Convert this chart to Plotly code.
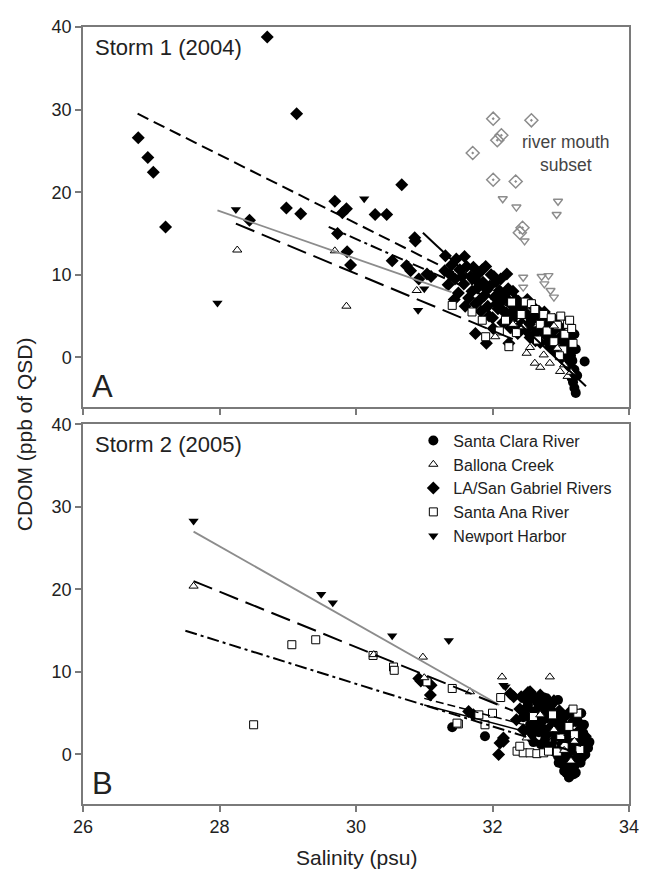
import plotly.graph_objects as go

# ---------------- Storm 1 (2004) data ----------------
s1_clara_x = [33.35, 33.20, 33.18, 33.22, 33.16, 33.20, 33.15, 33.22, 33.12, 33.20, 33.10, 33.24, 33.05, 33.17]
s1_clara_y = [-0.5, -3.7, -3.0, -4.3, -2.5, -1.5, 0.2, 1.0, 2.5, 2.8, -0.8, -2.2, 1.5, -0.4]

s1_ballona_x = [28.26, 29.86, 29.69, 30.89, 32.04, 32.50, 32.62, 32.55, 32.84, 32.99, 32.90, 33.05, 33.10, 32.75, 32.70, 32.45, 32.95, 33.15, 32.30]
s1_ballona_y = [13.0, 6.2, 12.9, 8.1, 2.5, 0.5, -0.7, 1.2, -0.7, -1.7, 3.8, -0.9, -2.3, 0.3, -1.2, 3.7, 1.1, -1.8, 4.0]

s1_la_x = [26.81, 26.95, 27.03, 27.21, 28.70, 29.13, 28.44, 28.98, 29.19, 29.69, 29.73, 29.80, 29.86, 29.87,
           29.92, 30.28, 30.45, 30.67, 30.53, 30.86, 30.87, 30.74, 30.80, 30.92, 31.04, 31.10, 31.31, 31.47,
           31.59, 31.75, 31.91, 32.01, 32.21, 32.24,
           31.30, 31.35, 31.40, 31.45, 31.50, 31.52, 31.58, 31.62, 31.65, 31.68, 31.72, 31.75, 31.78, 31.80,
           31.83, 31.86, 31.88, 31.90, 31.93, 31.96, 31.98, 32.00, 32.03, 32.05, 32.08, 32.10, 32.13, 32.15,
           32.18, 32.20, 32.23, 32.26, 32.28, 32.31, 32.34, 32.37, 32.40, 32.43, 32.46, 32.49, 32.52, 32.55,
           32.58, 32.61, 32.64, 32.67, 32.70, 32.73, 32.76, 32.79, 32.82, 32.85, 32.88, 32.91, 32.94, 32.97,
           33.00, 33.03, 33.06, 33.09, 33.12, 33.15, 33.18,
           31.38, 31.44, 31.55, 31.60, 31.70, 31.74, 31.82, 31.85, 31.92, 31.95, 32.02, 32.06, 32.12, 32.16,
           32.22, 32.25, 32.30, 32.33, 32.38, 32.42, 32.47, 32.51, 32.54, 32.60, 32.63, 32.68, 32.72, 32.78,
           32.81, 32.87, 32.92, 32.96, 33.02, 33.08, 33.13]
s1_la_y = [26.6, 24.2, 22.4, 15.8, 38.8, 29.5, 16.6, 18.1, 17.4, 18.9, 15.0, 17.5, 18.0, 12.8,
           11.2, 17.3, 17.3, 20.9, 11.7, 14.5, 14.1, 11.1, 10.5, 9.5, 10.1, 9.8, 12.3, 11.9,
           12.2, 2.9, 1.7, 3.5, 10.1, 1.7,
           10.5, 8.8, 11.2, 9.5, 7.8, 10.6, 8.9, 11.0, 7.2, 9.8, 10.9, 6.5, 8.4, 10.2,
           5.6, 9.1, 7.5, 11.0, 6.2, 8.6, 10.0, 4.8, 7.3, 9.2, 5.9, 8.1, 6.8, 4.2,
           7.6, 5.4, 8.3, 3.6, 6.3, 4.9, 7.0, 2.9, 5.7, 4.1, 6.2, 3.3, 5.1, 2.4,
           4.5, 6.0, 3.0, 4.9, 1.8, 3.8, 5.5, 2.6, 4.2, 1.2, 3.1, 4.6, 0.6, 2.3,
           3.6, 1.1, -0.5, 2.0, 0.3, -1.3, 1.2,
           10.0, 7.0, 9.8, 6.2, 8.0, 9.5, 7.0, 10.6, 8.2, 5.0, 9.8, 6.5, 9.5, 5.6,
           7.0, 4.5, 8.0, 5.8, 6.8, 3.5, 5.4, 7.0, 4.0, 5.2, 2.0, 5.6, 3.2, 4.8,
           1.8, 4.0, 2.0, 3.8, 2.6, 1.0, 2.4]

s1_ana_x = [31.41, 31.85, 31.90, 32.19, 32.24, 32.28, 32.48, 32.57, 32.35, 32.42, 32.62, 32.66, 32.70, 32.75,
            32.80, 32.86, 32.90, 32.95, 33.00, 33.03, 33.06, 33.10, 33.13, 33.16, 33.18, 32.98, 32.10, 31.70]
s1_ana_y = [6.3, 4.5, 2.5, 4.5, 1.3, 6.7, 6.7, 6.5, 3.0, 5.2, 5.8, 2.1, 4.0, 5.2,
            3.2, 4.8, 1.9, 3.9, 5.0, 0.9, 2.8, 4.0, 4.5, 3.5, 1.7, 0.2, 3.2, 5.5]

s1_newport_x = [28.24, 27.97, 30.12, 30.91, 31.00, 32.30, 32.60, 31.70]
s1_newport_y = [17.9, 6.6, 19.2, 5.7, 8.3, 4.5, 3.5, 9.2]

# river mouth subset (Storm 1)
rm_la_x = [31.71, 32.01, 32.07, 32.13, 32.57, 32.01, 32.34, 32.44, 32.40]
rm_la_y = [24.75, 28.9, 26.3, 26.9, 28.7, 21.5, 21.3, 15.7, 15.1]
rm_newport_x = [32.15, 32.35, 32.96, 32.94, 32.47, 32.45, 32.45, 32.72, 32.82, 32.76, 32.85, 32.90]
rm_newport_y = [19.2, 18.2, 18.9, 17.3, 14.1, 9.7, 8.5, 9.8, 9.9, 8.9, 8.1, 7.3]

# regression lines, Storm 1 (endpoints)
s1_fit_short_x = [26.80, 31.60]
s1_fit_short_y = [29.5, 9.6]
s1_fit_gray_x = [27.97, 31.40]
s1_fit_gray_y = [17.8, 7.9]
s1_fit_long_x = [28.24, 32.30]
s1_fit_long_y = [16.2, 2.2]
s1_fit_dashdot_x = [29.60, 32.20]
s1_fit_dashdot_y = [15.8, 6.3]
s1_fit_solid_x = [30.98, 33.37]
s1_fit_solid_y = [15.1, -3.5]

# ---------------- Storm 2 (2005) data ----------------
s2_clara_x = [31.41, 31.89, 32.96, 32.79,
              32.45, 32.50, 32.52, 32.55, 32.58, 32.60, 32.62, 32.65, 32.68, 32.70, 32.72, 32.75, 32.77, 32.80,
              32.82, 32.85, 32.87, 32.90, 32.92, 32.94, 32.96, 32.98, 33.00, 33.01, 33.03, 33.05, 33.06, 33.08,
              33.09, 33.10, 33.11, 33.12, 33.13, 33.14, 33.15, 33.16, 33.17, 33.18, 33.19, 33.20, 33.21, 33.22,
              33.24, 33.25, 33.27, 33.29, 33.30, 33.32, 33.35, 33.38, 33.42, 33.05, 33.12, 32.97, 33.26, 33.30,
              32.48, 32.53, 32.57, 32.63, 32.67, 32.71, 32.74, 32.78, 32.81, 32.84, 32.86, 32.89, 32.91, 32.93,
              32.95, 32.99, 33.02, 33.04, 33.07, 33.10, 33.13, 33.16, 33.19, 33.23, 33.26, 33.28, 33.31, 33.33,
              33.36, 33.40, 33.08, 33.15, 33.00, 32.70, 32.60, 32.88, 33.20, 33.34]
s2_clara_y = [3.3, 2.2, 6.6, 6.8,
              4.5, 2.8, 6.0, 3.6, 5.2, 1.5, 4.1, 6.4, 2.7, 5.0, 3.3, 6.9, 1.8, 4.4,
              2.6, 5.6, 0.9, 3.7, 1.8, 5.0, -0.2, 2.9, 4.2, 0.8, -1.2, 2.1, 3.5, -2.2,
              0.1, 1.4, -1.5, 2.8, -2.6, -0.6, 0.9, -1.9, 3.9, -0.9, 1.9, -1.4, 0.4, -2.2,
              2.5, -0.3, 1.2, -1.0, 3.0, 0.4, 1.8, 0.9, 1.5, -2.0, -2.8, -1.0, 4.8, 5.0,
              5.5, 4.6, 2.0, 3.0, 5.6, 1.2, 4.2, 3.0, 5.2, 1.0, 3.4, 4.6, 0.3, 2.6,
              4.0, 1.6, 3.0, 0.0, -0.8, 2.2, 0.5, 2.0, -2.4, -1.0, 0.2, 2.0, -0.4, 2.6,
              0.0, 0.8, -1.5, -2.2, -0.6, 6.2, 6.8, 6.2, 4.2, 3.6]

s2_ballona_x = [27.62, 30.98, 30.26, 31.67, 32.14, 32.84, 31.00, 32.70, 32.90, 33.05, 33.15, 33.20, 32.50]
s2_ballona_y = [20.4, 11.8, 12.1, 7.6, 9.4, 9.4, 9.3, 4.8, 3.0, 0.5, -0.8, 1.6, 2.0]

s2_la_x = [30.92, 30.95, 31.10, 31.09, 31.65, 31.72, 32.09, 32.16, 32.11, 32.16, 32.55, 32.26, 32.31, 32.52,
           32.40, 32.45, 32.50, 32.58, 32.62, 32.66, 32.70, 32.74, 32.78, 32.82, 32.86, 32.90, 32.94, 32.98,
           33.02, 33.06, 33.10, 33.14, 33.18, 33.22, 33.26, 33.30, 33.36, 32.42, 32.60, 32.35]
s2_la_y = [9.2, 8.9, 8.4, 7.2, 5.2, 4.8, 0.0, 1.6, 1.4, 2.0, 7.6, 7.4, 7.0, 7.5,
           5.5, 3.0, 6.5, 4.2, 6.9, 3.5, 7.2, 5.6, 2.4, 6.1, 4.5, 6.5, 3.2, 5.3,
           2.6, 4.6, 3.0, 5.2, 2.2, 4.1, 2.8, 3.6, 2.2, 7.0, 2.6, 4.2]

s2_ana_x = [28.50, 29.06, 29.41, 30.55, 30.56, 30.25, 31.04, 31.41, 31.50, 32.12, 31.89, 31.48, 32.36, 32.45,
            32.55, 32.65, 32.75, 32.82, 32.40, 32.95, 33.05, 33.12, 33.20, 33.25, 33.18, 33.28, 32.88, 33.00,
            32.60, 31.80, 32.00]
s2_ana_y = [3.6, 13.3, 13.9, 10.6, 10.2, 12.0, 8.8, 8.0, 3.7, 6.9, 3.6, 3.8, 0.4, 0.2,
            0.2, 0.1, 0.2, 0.4, 1.0, 0.3, 1.0, 3.4, 2.4, 5.0, 5.5, 0.6, 4.8, 2.0,
            4.6, 4.8, 5.0]

s2_newport_x = [27.62, 29.49, 29.66, 30.53, 31.36, 32.19, 32.16, 32.70, 33.00, 33.30]
s2_newport_y = [28.3, 19.4, 18.4, 14.4, 13.8, 8.2, 8.4, 3.9, 1.6, 3.1]

# regression lines, Storm 2 (endpoints)
s2_fit_gray_x = [27.62, 32.10]
s2_fit_gray_y = [27.0, 6.0]
s2_fit_long_x = [27.62, 32.30]
s2_fit_long_y = [21.0, 5.3]
s2_fit_dashdot_x = [27.50, 33.40]
s2_fit_dashdot_y = [15.0, -0.2]
s2_fit_solid_x = [31.00, 33.30]
s2_fit_solid_y = [6.0, 1.0]
s2_fit_short_x = [31.00, 33.20]
s2_fit_short_y = [6.8, 2.0]

series_names = ["Santa Clara River", "Ballona Creek", "LA/San Gabriel Rivers", "Santa Ana River", "Newport Harbor"]
x_ticks = [26, 28, 30, 32, 34]
y_ticks = [0, 10, 20, 30, 40]

# ---------------- styling ----------------
FONT = "Arial, Liberation Sans, sans-serif"
AX = "#7a7a7a"
GRAY = "#8c8c8c"
TXT = "#222"

styles = {
    "Santa Clara River": dict(symbol="circle", size=10, color="black", line=dict(color="black", width=0)),
    "Ballona Creek": dict(symbol="triangle-up", size=8, color="white", line=dict(color="black", width=1)),
    "LA/San Gabriel Rivers": dict(symbol="diamond", size=10, color="black", line=dict(color="black", width=0)),
    "Santa Ana River": dict(symbol="square", size=8, color="white", line=dict(color="black", width=1)),
    "Newport Harbor": dict(symbol="triangle-down", size=9, color="black", line=dict(color="black", width=0)),
}
rank = {n: i for i, n in enumerate(series_names)}

fig = go.Figure()

def add_line(xs, ys, xa, ya, color, width, dash):
    fig.add_trace(go.Scatter(x=xs, y=ys, mode="lines", xaxis=xa, yaxis=ya, showlegend=False,
                             hoverinfo="skip", line=dict(color=color, width=width, dash=dash)))

def add_pts(name, xs, ys, xa, ya, legend):
    fig.add_trace(go.Scatter(x=xs, y=ys, mode="markers", name=name, xaxis=xa, yaxis=ya,
                             showlegend=legend, legendrank=rank[name] + 1, marker=styles[name]))

# Storm 1 (top panel: x2/y2)
add_pts("LA/San Gabriel Rivers", s1_la_x, s1_la_y, "x2", "y2", False)
add_pts("Santa Clara River", s1_clara_x, s1_clara_y, "x2", "y2", False)
add_pts("Newport Harbor", s1_newport_x, s1_newport_y, "x2", "y2", False)
add_pts("Santa Ana River", s1_ana_x, s1_ana_y, "x2", "y2", False)
add_pts("Ballona Creek", s1_ballona_x, s1_ballona_y, "x2", "y2", False)
fig.add_trace(go.Scatter(x=rm_la_x, y=rm_la_y, mode="markers", xaxis="x2", yaxis="y2", showlegend=False,
                         marker=dict(symbol="diamond-open-dot", size=10, color=GRAY, line=dict(width=1.5))))
fig.add_trace(go.Scatter(x=rm_newport_x, y=rm_newport_y, mode="markers", xaxis="x2", yaxis="y2", showlegend=False,
                         marker=dict(symbol="triangle-down-open", size=8, color=GRAY, line=dict(width=1.4))))
add_line(s1_fit_short_x, s1_fit_short_y, "x2", "y2", "black", 2, "12px,6px")
add_line(s1_fit_gray_x, s1_fit_gray_y, "x2", "y2", GRAY, 1.8, "solid")
add_line(s1_fit_long_x, s1_fit_long_y, "x2", "y2", "black", 2, "20px,8px")
add_line(s1_fit_dashdot_x, s1_fit_dashdot_y, "x2", "y2", "black", 2, "12px,4px,3px,4px")
add_line(s1_fit_solid_x, s1_fit_solid_y, "x2", "y2", "black", 2, "solid")

# Storm 2 (bottom panel: x/y)
add_pts("LA/San Gabriel Rivers", s2_la_x, s2_la_y, "x", "y", True)
add_pts("Santa Clara River", s2_clara_x, s2_clara_y, "x", "y", True)
add_pts("Santa Ana River", s2_ana_x, s2_ana_y, "x", "y", True)
add_pts("Ballona Creek", s2_ballona_x, s2_ballona_y, "x", "y", True)
add_pts("Newport Harbor", s2_newport_x, s2_newport_y, "x", "y", True)
add_line(s2_fit_gray_x, s2_fit_gray_y, "x", "y", GRAY, 1.8, "solid")
add_line(s2_fit_long_x, s2_fit_long_y, "x", "y", "black", 2, "20px,8px")
add_line(s2_fit_dashdot_x, s2_fit_dashdot_y, "x", "y", "black", 2, "12px,4px,3px,4px")
add_line(s2_fit_solid_x, s2_fit_solid_y, "x", "y", "black", 1.5, "solid")
add_line(s2_fit_short_x, s2_fit_short_y, "x", "y", "black", 1.5, "8px,4px")

axis_common = dict(range=[26, 34], tickvals=x_ticks, ticks="outside", ticklen=6, tickwidth=1.5,
                   tickcolor=AX, showline=True, linecolor=AX, linewidth=1.5, mirror=True,
                   showgrid=False, zeroline=False, tickfont=dict(family=FONT, size=18, color=TXT))
yaxis_common = dict(range=[-6, 40], tickvals=y_ticks, ticks="outside", ticklen=6, tickwidth=1.5,
                    tickcolor=AX, showline=True, linecolor=AX, linewidth=1.5, mirror=True,
                    showgrid=False, zeroline=False, tickfont=dict(family=FONT, size=18, color=TXT))

# page body has an 8px margin: figure is sized so the plot area lands where the reference's does
fig.update_layout(
    width=640, height=867,
    margin=dict(l=75, r=15, t=9, b=71),
    paper_bgcolor="white", plot_bgcolor="white",
    font=dict(family=FONT, color=TXT),
    xaxis=dict(domain=[0, 1], anchor="y", **axis_common),
    yaxis=dict(domain=[0, 0.4886], anchor="x", **yaxis_common),
    xaxis2=dict(domain=[0, 1], anchor="y2", showticklabels=False, **axis_common),
    yaxis2=dict(domain=[0.511, 1], anchor="x2", **yaxis_common),
    legend=dict(x=0.605, y=0.4896, xanchor="left", yanchor="top", bgcolor="rgba(0,0,0,0)",
                font=dict(family=FONT, size=16, color=TXT), tracegroupgap=0, itemwidth=30),
    annotations=[
        dict(text="CDOM (ppb of QSD)", xref="paper", yref="paper", x=-0.108, y=0.476, textangle=-90,
             showarrow=False, xanchor="center", yanchor="middle", font=dict(size=21, family=FONT, color=TXT)),
        dict(text="Salinity (psu)", xref="paper", yref="paper", x=0.5, y=-0.0865, showarrow=False,
             xanchor="center", yanchor="bottom", font=dict(size=21, family=FONT, color=TXT)),
        dict(text="Storm 1 (2004)", xref="paper", yref="paper", x=0.018, y=0.973, showarrow=False,
             xanchor="left", yanchor="middle", font=dict(size=22, family=FONT, color=TXT)),
        dict(text="Storm 2 (2005)", xref="paper", yref="paper", x=0.018, y=0.4623, showarrow=False,
             xanchor="left", yanchor="middle", font=dict(size=22, family=FONT, color=TXT)),
        dict(text="A", xref="paper", yref="paper", x=0.012, y=0.537, showarrow=False,
             xanchor="left", yanchor="middle", font=dict(size=31, family=FONT, color=TXT)),
        dict(text="B", xref="paper", yref="paper", x=0.012, y=0.027, showarrow=False,
             xanchor="left", yanchor="middle", font=dict(size=31, family=FONT, color=TXT)),
        dict(text="river mouth<br>subset", xref="paper", yref="paper", x=0.885, y=0.837, showarrow=False,
             xanchor="center", yanchor="middle", font=dict(size=17.5, family=FONT, color="#444")),
    ],
)

fig.write_html("out.html")
